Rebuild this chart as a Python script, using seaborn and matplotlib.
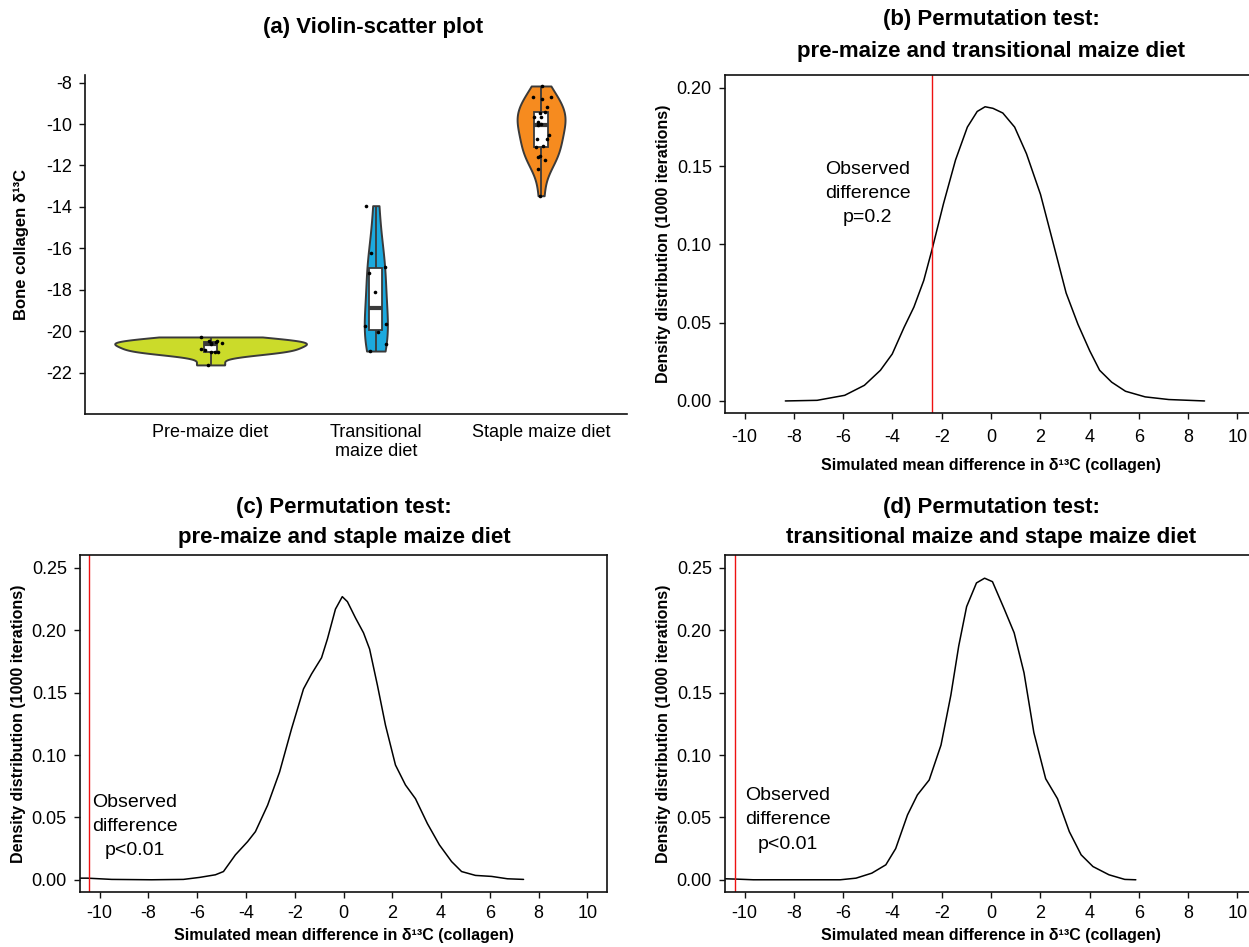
import numpy as np
import pandas as pd
import matplotlib
matplotlib.use("Agg")
import matplotlib.pyplot as plt
import seaborn as sns
from matplotlib.ticker import FormatStrFormatter

# (a) bone collagen d13C values per diet group
pre_maize = [-20.28, -20.47, -20.47, -20.52, -20.59, -20.59, -20.62,
             -20.88, -20.92, -20.99, -20.99, -21.02, -21.63]
transitional = [-13.94, -16.22, -16.89, -17.21, -18.10, -19.66, -19.75,
                -20.02, -20.64, -20.96]
staple = [-8.16, -8.70, -8.70, -8.80, -9.19, -9.40, -9.48, -9.67, -9.67,
          -9.88, -10.01, -10.04, -10.52, -10.71, -10.74, -11.05, -11.13,
          -11.56, -11.61, -11.75, -12.17, -13.46]
groups = ["Pre-maize diet", "Transitional\nmaize diet", "Staple maize diet"]
group_colors = ["#CBDB2A", "#1CA9DE", "#F68B1F"]
violin_widths = [1.16, 0.14, 0.29]

# (b) pre-maize vs transitional: simulated mean differences (density)
b_x = [-8.35, -7.06, -5.94, -5.14, -4.49, -4.01, -3.53, -3.13, -2.73, -2.39,
       -1.93, -1.44, -0.96, -0.56, -0.24, 0.08, 0.48, 0.96, 1.44, 2.01, 2.49,
       3.05, 3.53, 4.01, 4.41, 4.90, 5.46, 6.26, 7.22, 8.67]
b_y = [0.000, 0.0004, 0.0036, 0.010, 0.0196, 0.030, 0.047, 0.060, 0.077, 0.097,
       0.126, 0.154, 0.175, 0.185, 0.188, 0.187, 0.184, 0.175, 0.158, 0.132,
       0.103, 0.069, 0.049, 0.032, 0.0196, 0.012, 0.0062, 0.0026, 0.0009, 0.0]
b_obs = -2.39

# (c) pre-maize vs staple
c_x = [-10.9, -10.5, -9.5, -7.87, -6.56, -5.9, -5.25, -4.92, -4.43, -3.93,
       -3.61, -3.11, -2.62, -2.13, -1.64, -1.31, -0.90, -0.66, -0.33, -0.05,
       0.16, 0.49, 0.82, 1.07, 1.39, 1.72, 2.13, 2.54, 2.95, 3.44, 3.93, 4.43,
       4.84, 5.41, 6.07, 6.72, 7.38]
c_y = [0.0013, 0.0013, 0.0003, 0.0, 0.0003, 0.0019, 0.004, 0.0066, 0.020,
       0.0306, 0.0386, 0.0598, 0.0864, 0.121, 0.153, 0.165, 0.178, 0.193,
       0.217, 0.227, 0.223, 0.210, 0.198, 0.185, 0.156, 0.124, 0.092, 0.076,
       0.065, 0.045, 0.028, 0.0146, 0.0066, 0.0035, 0.0027, 0.0008, 0.0003]
c_obs = -10.45

# (d) transitional vs staple
d_x = [-10.8, -10.29, -9.65, -8.04, -6.12, -5.48, -4.84, -4.27, -3.87, -3.39,
       -2.99, -2.51, -2.03, -1.63, -1.31, -0.99, -0.59, -0.26, 0.06, 0.54,
       0.94, 1.34, 1.74, 2.22, 2.70, 3.18, 3.66, 4.14, 4.79, 5.43, 5.88]
d_y = [0.0008, 0.0005, 0.0, 0.0, 0.0, 0.0013, 0.0053, 0.012, 0.025, 0.052,
       0.068, 0.080, 0.108, 0.148, 0.1875, 0.219, 0.238, 0.2418, 0.239, 0.217,
       0.198, 0.166, 0.118, 0.081, 0.065, 0.0386, 0.020, 0.0106, 0.004,
       0.0003, 0.0]
d_obs = -10.4

sns.set_style("ticks")
plt.rcParams['font.family'] = ['Liberation Sans', 'DejaVu Sans']
plt.rcParams['axes.unicode_minus'] = False
for k in ['text.color', 'axes.labelcolor', 'xtick.color', 'ytick.color']:
    plt.rcParams[k] = 'black'

W, H = 1249, 947
fig = plt.figure(figsize=(W / 100, H / 100), dpi=100)


def px_axes(l, t, r, b):
    return fig.add_axes([l / W, 1 - b / H, (r - l) / W, (b - t) / H])


def style_axes(ax):
    for sp in ax.spines.values():
        sp.set_color('#111111')
        sp.set_linewidth(1.2)
    ax.tick_params(direction='out', length=4.5, width=1.0, color='#111111',
                   labelsize=13, pad=5)


# ---- (a) violin-scatter plot
df = pd.DataFrame({
    'group': [groups[0]] * len(pre_maize) + [groups[1]] * len(transitional)
             + [groups[2]] * len(staple),
    'd13C': pre_maize + transitional + staple,
})

ax = px_axes(85, 75, 627, 414)
for g, col, w in zip(groups, group_colors, violin_widths):
    sns.violinplot(data=df[df['group'] == g], x='group', y='d13C',
                   order=groups, color=col, inner=None, cut=0,
                   density_norm='width', width=w, linewidth=1.4,
                   linecolor='#3a3a3a', saturation=1, ax=ax)
sns.boxplot(data=df, x='group', y='d13C', order=groups, width=0.08,
            color='white', linecolor='#3a3a3a', linewidth=1.3,
            whis=(0, 100), showfliers=False, showcaps=False,
            medianprops={'linewidth': 3}, saturation=1, ax=ax)
np.random.seed(7)
sns.stripplot(data=df, x='group', y='d13C', order=groups, color='black',
              size=2.6, jitter=0.07, ax=ax)
ax.set_xlim(-0.76, 2.52)
ax.set_ylim(-24.0, -7.63)
ax.set_yticks(range(-22, -7, 2))
sns.despine(ax=ax)
style_axes(ax)
ax.tick_params(axis='x', length=0, pad=7)
ax.set_xlabel('')
ax.set_ylabel('Bone collagen δ¹³C', fontsize=12, fontweight='bold', labelpad=12)
fig.text(373 / W, 1 - 27 / H, '(a) Violin-scatter plot', ha='center',
         va='center', fontsize=16, fontweight='bold')

# ---- permutation panels
panels = [
    ((725, 75, 1257, 413), b_x, b_y, b_obs, 'p=0.2', (-5.0, 0.1325),
     (-0.0077, 0.2083), [0, 0.05, 0.10, 0.15, 0.20],
     ['(b) Permutation test:', 'pre-maize and transitional maize diet'],
     (991, 20, 52), (7, 9)),
    ((80, 555, 607, 892), c_x, c_y, c_obs, 'p<0.01', (-8.55, 0.0426),
     (-0.0098, 0.2604), [0, 0.05, 0.10, 0.15, 0.20, 0.25],
     ['(c) Permutation test:', 'pre-maize and staple maize diet'],
     (344, 508, 537), (5, 4)),
    ((725, 555, 1257, 892), d_x, d_y, d_obs, 'p<0.01', (-8.25, 0.048),
     (-0.0098, 0.2604), [0, 0.05, 0.10, 0.15, 0.20, 0.25],
     ['(d) Permutation test:', 'transitional maize and stape maize diet'],
     (991, 508, 537), (5, 4)),
]

for box, xs, ys, obs, ptxt, txt_xy, ylim, yticks, title, tpos, pads in panels:
    ax = px_axes(*box)
    sns.lineplot(x=xs, y=ys, color='black', linewidth=1.1, ax=ax)
    ax.axvline(obs, color='#ee1111', linewidth=1.0)
    ax.text(txt_xy[0], txt_xy[1], 'Observed\ndifference\n' + ptxt,
            ha='center', va='center', fontsize=14, linespacing=1.55)
    ax.set_xlim(-10.8, 10.8)
    ax.set_ylim(*ylim)
    ax.set_xticks(range(-10, 11, 2))
    ax.set_yticks(yticks)
    ax.yaxis.set_major_formatter(FormatStrFormatter('%.2f'))
    style_axes(ax)
    ax.tick_params(axis='x', pad=pads[0])
    ax.set_xlabel('Simulated mean difference in δ¹³C (collagen)', fontsize=11.5,
                  fontweight='bold', labelpad=pads[1])
    ax.set_ylabel('Density distribution (1000 iterations)', fontsize=11.5,
                  fontweight='bold', labelpad=4)
    fig.text(tpos[0] / W, 1 - tpos[1] / H, title[0], ha='center', va='center',
             fontsize=16, fontweight='bold')
    fig.text(tpos[0] / W, 1 - tpos[2] / H, title[1], ha='center', va='center',
             fontsize=16, fontweight='bold')

fig.savefig('out.png', dpi=100)
